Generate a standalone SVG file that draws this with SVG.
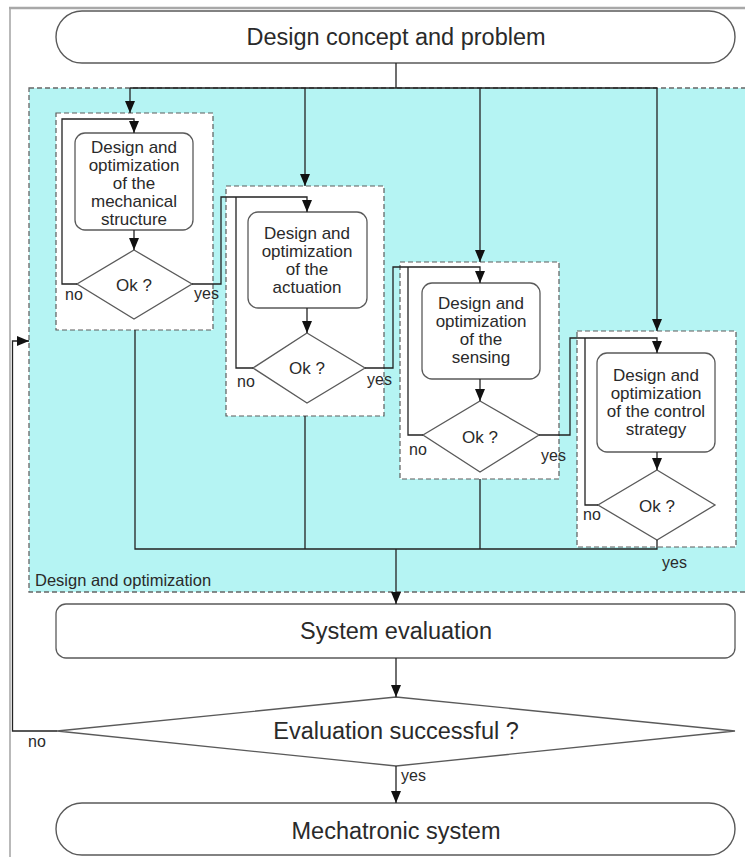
<svg xmlns="http://www.w3.org/2000/svg" width="745" height="857" viewBox="0 0 745 857">
  <defs>
    <marker id="ah" viewBox="0 0 12 10" refX="12" refY="5" markerWidth="12" markerHeight="10" markerUnits="userSpaceOnUse" orient="auto">
      <path d="M0,0 L12,5 L0,10 z" fill="#111"/>
    </marker>
    <style>
      .frame { fill: none; stroke: #a8a8a8; }
      .term { fill: #fff; stroke: #5a5a5a; stroke-width: 1.4; }
      .proc { fill: #fff; stroke: #5a5a5a; stroke-width: 1.3; }
      .dec { fill: #fff; stroke: #5a5a5a; stroke-width: 1.3; }
      .grp { fill: #fff; stroke: #5c5c5c; stroke-width: 1.2; stroke-dasharray: 5 3; }
      .zone { fill: #b5f4f3; stroke: #666; stroke-width: 1.3; stroke-dasharray: 5 3; }
      .wire { fill: none; stroke: #222; stroke-width: 1.3; }
      .arr { marker-end: url(#ah); }
      text { font-family: "Liberation Sans", Arial, Helvetica, sans-serif; fill: #2a2a2a; }
      .big { font-size: 23.5px; text-anchor: middle; }
      .box { font-size: 17px; text-anchor: middle; }
      .lbl { font-size: 16px; }
    </style>
  </defs>

  <rect width="745" height="857" fill="#fff"/>

  <!-- page frame -->
  <path class="frame" d="M9,8 H745" stroke-width="2.5"/>
  <path class="frame" d="M10,8 V857" stroke-width="1.6"/>

  <!-- design and optimization zone -->
  <g id="zone">
    <rect class="zone" x="29" y="88" width="730" height="504"/>
    <text class="lbl" x="35" y="586" style="font-size:16.5px">Design and optimization</text>
  </g>

  <!-- start terminal -->
  <g id="start">
    <rect class="term" x="56" y="11" width="679" height="52" rx="26" ry="26"/>
    <text class="big" x="396" y="45">Design concept and problem</text>
  </g>

  <!-- mechanical structure -->
  <g id="mech">
    <rect class="grp" x="56" y="113" width="157" height="217"/>
    <rect class="proc" x="75" y="133" width="118" height="97" rx="10"/>
    <text class="box" x="134" y="153">Design and</text>
    <text class="box" x="134" y="171">optimization</text>
    <text class="box" x="134" y="189">of the</text>
    <text class="box" x="134" y="207">mechanical</text>
    <text class="box" x="134" y="225">structure</text>
  </g>
  <g id="mech-ok">
    <polygon class="dec" points="134,250 192,284 134,319 77,284"/>
    <text class="box" x="134" y="291">Ok ?</text>
    <text class="lbl" x="65" y="300">no</text>
    <text class="lbl" x="194" y="299">yes</text>
  </g>

  <!-- actuation -->
  <g id="act">
    <rect class="grp" x="226" y="186" width="158" height="230"/>
    <rect class="proc" x="248" y="212" width="119" height="96" rx="10"/>
    <text class="box" x="307" y="239">Design and</text>
    <text class="box" x="307" y="257">optimization</text>
    <text class="box" x="307" y="275">of the</text>
    <text class="box" x="307" y="293">actuation</text>
  </g>
  <g id="act-ok">
    <polygon class="dec" points="307,333 365,368 307,403 253,368"/>
    <text class="box" x="307" y="374">Ok ?</text>
    <text class="lbl" x="237" y="387">no</text>
    <text class="lbl" x="367" y="385">yes</text>
  </g>

  <!-- sensing -->
  <g id="sense">
    <rect class="grp" x="400" y="262" width="159" height="217"/>
    <rect class="proc" x="422" y="283" width="118" height="96" rx="10"/>
    <text class="box" x="481" y="309">Design and</text>
    <text class="box" x="481" y="327">optimization</text>
    <text class="box" x="481" y="345">of the</text>
    <text class="box" x="481" y="363">sensing</text>
  </g>
  <g id="sense-ok">
    <polygon class="dec" points="480,401 539,435 480,472 423,435"/>
    <text class="box" x="480" y="443">Ok ?</text>
    <text class="lbl" x="409" y="455">no</text>
    <text class="lbl" x="541" y="461">yes</text>
  </g>

  <!-- control strategy -->
  <g id="ctrl">
    <rect class="grp" x="577" y="331" width="159" height="216"/>
    <rect class="proc" x="597" y="353" width="118" height="99" rx="10"/>
    <text class="box" x="656" y="381">Design and</text>
    <text class="box" x="656" y="399">optimization</text>
    <text class="box" x="656" y="417">of the control</text>
    <text class="box" x="656" y="435">strategy</text>
  </g>
  <g id="ctrl-ok">
    <polygon class="dec" points="657,470 715,505 657,540 598,505"/>
    <text class="box" x="657" y="512">Ok ?</text>
    <text class="lbl" x="583" y="520">no</text>
    <text class="lbl" x="662" y="568">yes</text>
  </g>

  <!-- system evaluation -->
  <g id="eval">
    <rect class="proc" x="56" y="604" width="679" height="54" rx="10"/>
    <text class="big" x="396" y="639">System evaluation</text>
  </g>

  <!-- evaluation decision -->
  <g id="eval-ok">
    <polygon class="dec" points="396,697 735,731 396,766 57,731"/>
    <text class="big" x="396" y="739">Evaluation successful ?</text>
    <text class="lbl" x="28" y="747">no</text>
    <text class="lbl" x="401" y="781">yes</text>
  </g>

  <!-- end terminal -->
  <g id="end">
    <rect class="term" x="56" y="803" width="679" height="52" rx="26" ry="26"/>
    <text class="big" x="396" y="839">Mechatronic system</text>
  </g>

  <!-- connectors -->
  <g id="connectors">
    <!-- fan-out from the concept -->
    <path class="wire" d="M396,63 V88 M130,88 H657"/>
    <path class="wire arr" d="M130,88 V113"/>
    <path class="wire arr" d="M305,88 V186"/>
    <path class="wire arr" d="M480,88 V262"/>
    <path class="wire arr" d="M657,88 V331"/>

    <!-- mechanical structure loop -->
    <path class="wire arr" d="M77,284 H62 V119 H134 V133"/>
    <path class="wire arr" d="M134,230 V250"/>
    <path class="wire arr" d="M192,284 H221 V197 H307 V212"/>

    <!-- actuation loop -->
    <path class="wire" d="M253,368 H236 V197"/>
    <path class="wire arr" d="M307,308 V333"/>
    <path class="wire arr" d="M365,368 H393 V267 H480 V283"/>

    <!-- sensing loop -->
    <path class="wire" d="M423,435 H408 V267"/>
    <path class="wire arr" d="M480,379 V401"/>
    <path class="wire arr" d="M539,435 H570 V338 H657 V353"/>

    <!-- control strategy loop -->
    <path class="wire" d="M598,505 H585 V338"/>
    <path class="wire arr" d="M657,452 V470"/>

    <!-- collector to evaluation -->
    <path class="wire" d="M135,330 V549 H657 V540 M305,416 V549 M480,479 V549"/>
    <path class="wire arr" d="M396,549 V604"/>
    <path class="wire arr" d="M396,658 V697"/>
    <path class="wire arr" d="M396,766 V803"/>

    <!-- evaluation failed: back to design -->
    <path class="wire arr" d="M57,731 H12.5 V341 H29"/>
  </g>
</svg>
